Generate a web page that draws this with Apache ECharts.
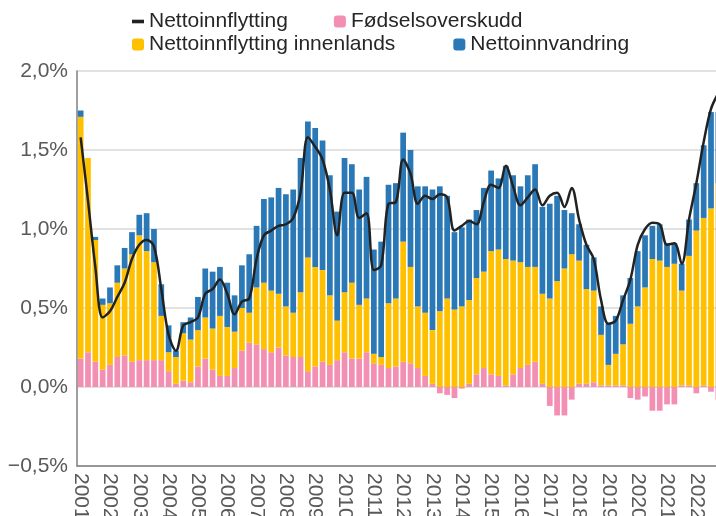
<!DOCTYPE html>
<html>
<head>
<meta charset="utf-8">
<script src="https://cdn.jsdelivr.net/npm/echarts@6/dist/echarts.min.js"></script>
<style>
  html, body { margin: 0; padding: 0; background: #fff; }
  #chart { width: 716px; height: 516px; }
</style>
</head>
<body>
<div id="chart"></div>
<script>
var YEARS = ["2001", "2002", "2003", "2004", "2005", "2006", "2007", "2008", "2009", "2010", "2011",
             "2012", "2013", "2014", "2015", "2016", "2017", "2018", "2019", "2020", "2021", "2022"];

// percent of population, one value per quarter from 2001K1
var fodselsoverskudd = [
  0.18, 0.22, 0.16, 0.11, 0.14, 0.19, 0.20, 0.16, 0.17, 0.17, 0.17, 0.17,
  0.10, 0.02, 0.04, 0.03, 0.13, 0.18, 0.11, 0.07, 0.07, 0.12, 0.23, 0.28,
  0.27, 0.24, 0.22, 0.25, 0.20, 0.19, 0.19, 0.10, 0.13, 0.16, 0.14, 0.17,
  0.22, 0.18, 0.18, 0.22, 0.15, 0.14, 0.12, 0.13, 0.16, 0.15, 0.12, 0.07,
  0.02, -0.04, -0.05, -0.07, -0.01, 0.02, 0.08, 0.12, 0.08, 0.07, 0.01, 0.08,
  0.12, 0.14, 0.16, 0.02, -0.12, -0.18, -0.18, -0.08, 0.02, 0.02, 0.03, 0.01,
  0.01, 0.01, 0.01, -0.07, -0.08, -0.06, -0.15, -0.15, -0.11, -0.11, 0.01, 0.01,
  -0.04, 0.01, -0.03, -0.08
];
var innenlands = [
  1.53, 1.23, 0.77, 0.41, 0.39, 0.47, 0.55, 0.68, 0.79, 0.69, 0.62, 0.28,
  0.12, 0.17, 0.30, 0.27, 0.23, 0.26, 0.26, 0.38, 0.31, 0.23, 0.27, 0.19,
  0.36, 0.42, 0.39, 0.34, 0.31, 0.28, 0.41, 0.72, 0.63, 0.58, 0.44, 0.25,
  0.38, 0.48, 0.34, 0.34, 0.06, 0.05, 0.41, 0.43, 0.76, 0.61, 0.39, 0.40,
  0.34, 0.48, 0.56, 0.49, 0.51, 0.53, 0.61, 0.61, 0.78, 0.80, 0.80, 0.72,
  0.67, 0.62, 0.60, 0.57, 0.56, 0.67, 0.75, 0.84, 0.78, 0.60, 0.58, 0.32,
  0.13, 0.20, 0.26, 0.40, 0.51, 0.63, 0.81, 0.80, 0.76, 0.78, 0.60, 0.82,
  0.99, 1.06, 1.13, 1.29
];
var innvandring = [
  0.04, 0.00, 0.02, 0.04, 0.10, 0.11, 0.13, 0.14, 0.13, 0.24, 0.21, 0.20,
  0.17, 0.04, 0.07, 0.14, 0.21, 0.31, 0.36, 0.31, 0.28, 0.23, 0.27, 0.37,
  0.39, 0.53, 0.59, 0.67, 0.71, 0.78, 0.85, 0.86, 0.88, 0.82, 0.76, 0.69,
  0.85, 0.75, 0.73, 0.77, 0.66, 0.73, 0.75, 0.73, 0.69, 0.74, 0.76, 0.80,
  0.89, 0.79, 0.65, 0.49, 0.50, 0.51, 0.43, 0.53, 0.51, 0.45, 0.59, 0.54,
  0.48, 0.58, 0.65, 0.55, 0.60, 0.54, 0.37, 0.26, 0.23, 0.28, 0.21, 0.18,
  0.26, 0.24, 0.31, 0.29, 0.35, 0.33, 0.21, 0.23, 0.15, 0.13, 0.17, 0.23,
  0.30, 0.46, 0.61, 0.45
];
var nettoinnflytting = [
  1.58, 1.18, 0.76, 0.44, 0.48, 0.57, 0.66, 0.81, 0.90, 0.93, 0.89, 0.62,
  0.33, 0.23, 0.39, 0.41, 0.44, 0.59, 0.62, 0.68, 0.59, 0.46, 0.54, 0.56,
  0.81, 0.96, 0.99, 1.02, 1.03, 1.07, 1.23, 1.58, 1.52, 1.44, 1.25, 0.96,
  1.23, 1.23, 1.07, 1.10, 0.74, 0.77, 1.16, 1.17, 1.44, 1.35, 1.16, 1.21,
  1.19, 1.22, 1.20, 0.99, 1.02, 1.05, 1.03, 1.17, 1.28, 1.26, 1.40, 1.27,
  1.15, 1.20, 1.25, 1.15, 1.21, 1.23, 1.14, 1.26, 1.06, 0.90, 0.81, 0.55,
  0.40, 0.42, 0.55, 0.68, 0.90, 1.00, 1.04, 1.03, 0.90, 0.91, 0.78, 1.06,
  1.29, 1.55, 1.76, 1.86
];

var categories = [];
YEARS.forEach(function(y) {
  for (var q = 1; q <= 4; q++) categories.push(y + "K" + q);
});

var FONT = "'Liberation Sans', Arial, sans-serif";
var TEXT = "#595959";

function fmtPct(v) {
  var s = Math.abs(v).toFixed(1).replace(".", ",") + "%";
  return v < 0 ? "\u2212" + s : s;
}

var chart = echarts.init(document.getElementById("chart"));
var legendText = { color: "#262626", fontSize: 21, fontFamily: FONT };

chart.setOption({
  animation: false,
  legend: [
    { data: [{ name: "Nettoinnflytting", icon: "path://M0,0H10V3H0Z" }, "Fødselsoverskudd"],
      left: 127, top: 6, itemGap: 46, itemWidth: 12, itemHeight: 12, textStyle: legendText },
    { data: ["Nettoinnflytting innenlands", "Nettoinnvandring"], left: 127, top: 29, itemGap: 58,
      itemWidth: 12, itemHeight: 12, textStyle: legendText }
  ],
  grid: { left: 77, right: -6, top: 71, bottom: 50, outerBoundsMode: "none" },
  xAxis: {
    type: "category", data: categories,
    axisLine: { onZero: false, lineStyle: { color: "#7f7f7f", width: 1.5 } },
    axisTick: { show: false },
    axisLabel: { rotate: -90, interval: 3, margin: 7, fontSize: 21, color: TEXT, fontFamily: FONT,
                 formatter: function(v) { return v.slice(0, 4); } }
  },
  yAxis: {
    type: "value", min: -0.5, max: 2.0, interval: 0.5,
    axisLine: { show: true, lineStyle: { color: "#7f7f7f", width: 1.5 } },
    axisTick: { show: false },
    splitLine: { lineStyle: { color: "#d9d9d9", width: 1.5 } },
    axisLabel: { fontSize: 21, color: TEXT, fontFamily: FONT, margin: 9, formatter: fmtPct }
  },
  series: [
    { name: "Fødselsoverskudd", type: "bar", stack: "tot", data: fodselsoverskudd,
      barCategoryGap: "22%", itemStyle: { color: "#f48fb4" } },
    { name: "Nettoinnflytting innenlands", type: "bar", stack: "tot", data: innenlands,
      itemStyle: { color: "#ffc000" } },
    { name: "Nettoinnvandring", type: "bar", stack: "tot", data: innvandring,
      itemStyle: { color: "#2a78b6" } },
    { name: "Nettoinnflytting", type: "line", data: nettoinnflytting, smooth: 0.35,
      symbol: "none", z: 5, lineStyle: { color: "#222", width: 2.5 }, itemStyle: { color: "#222" } }
  ]
});
</script>
</body>
</html>
